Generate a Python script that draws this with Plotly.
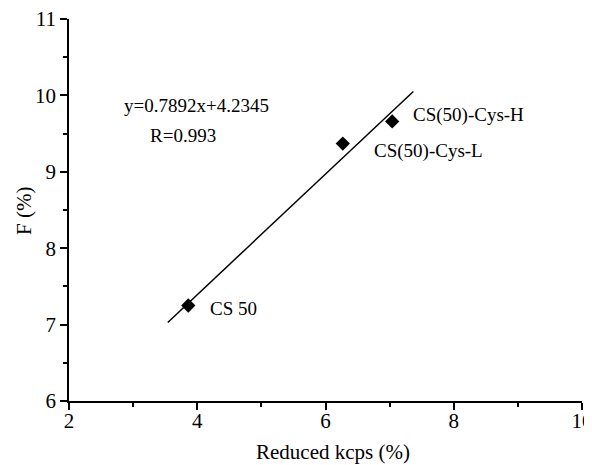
import plotly.graph_objects as go

# Data
sample_names = ["CS 50", "CS(50)-Cys-L", "CS(50)-Cys-H"]
reduced_kcps = [3.86, 6.27, 7.04]
f_percent = [7.25, 9.37, 9.66]

slope = 0.7892
intercept = 4.2345
r_value = 0.993
fit_x = [3.54, 7.37]
fit_y = [slope * x + intercept for x in fit_x]

x_ticks = [2, 4, 6, 8, 10]
y_ticks = [6, 7, 8, 9, 10, 11]
x_title = "Reduced kcps (%)"
y_title = "F (%)"

FONT = "Liberation Serif, Times New Roman, serif"

fig = go.Figure()
fig.add_trace(go.Scatter(x=fit_x, y=fit_y, mode="lines",
                         line=dict(color="black", width=1.5), showlegend=False))
fig.add_trace(go.Scatter(x=reduced_kcps, y=f_percent, mode="markers",
                         marker=dict(symbol="diamond", size=11, color="black"),
                         showlegend=False))

# point labels
label_offsets = [(20, 3), (29, 7), (19, -6)]
for name, x, y, (dx, dy) in zip(sample_names, reduced_kcps, f_percent, label_offsets):
    fig.add_annotation(x=x, y=y, text=name, showarrow=False, xanchor="left",
                       yanchor="middle", xshift=dx, yshift=-dy,
                       font=dict(family=FONT, size=19, color="black"))

fig.add_annotation(x=2.82, y=9.87, text=f"y={slope}x+{intercept}", showarrow=False,
                   xanchor="left", yanchor="middle",
                   font=dict(family=FONT, size=19, color="black"))
fig.add_annotation(x=3.23, y=9.48, text=f"R={r_value}", showarrow=False,
                   xanchor="left", yanchor="middle",
                   font=dict(family=FONT, size=19, color="black"))

# axis titles
fig.add_annotation(xref="paper", yref="paper", x=0.5, y=0, xshift=7, yshift=-51,
                   text=x_title, showarrow=False, xanchor="center", yanchor="middle",
                   font=dict(family=FONT, size=21, color="black"))
fig.add_annotation(xref="paper", yref="paper", x=0, y=0.5, xshift=-45, yshift=-1,
                   text=y_title, showarrow=False, textangle=-90,
                   xanchor="center", yanchor="middle",
                   font=dict(family=FONT, size=21, color="black"))

axis_common = dict(showgrid=False, zeroline=False, showline=True, linecolor="black",
                   linewidth=1.5, ticks="outside", ticklen=7, tickwidth=1.5,
                   tickcolor="black", automargin=False, ticklabeloverflow="allow",
                   tickfont=dict(family=FONT, size=21, color="black"))

fig.update_xaxes(range=[2, 10], tickvals=x_ticks, ticktext=[str(v) for v in x_ticks],
                 ticklabelstandoff=-7,
                 minor=dict(ticks="outside", ticklen=4, tickwidth=1.5,
                            tickcolor="black", tick0=3, dtick=2),
                 **axis_common)
fig.update_yaxes(range=[6, 11], tickvals=y_ticks, ticktext=[str(v) for v in y_ticks],
                 minor=dict(ticks="outside", ticklen=4, tickwidth=1.5,
                            tickcolor="black", tick0=6.5, dtick=1),
                 **axis_common)

fig.update_layout(width=584, height=457, plot_bgcolor="white", paper_bgcolor="white",
                  margin=dict(l=61, r=10, t=11, b=64),
                  font=dict(family=FONT, color="black"))

fig.write_html("out.html")
